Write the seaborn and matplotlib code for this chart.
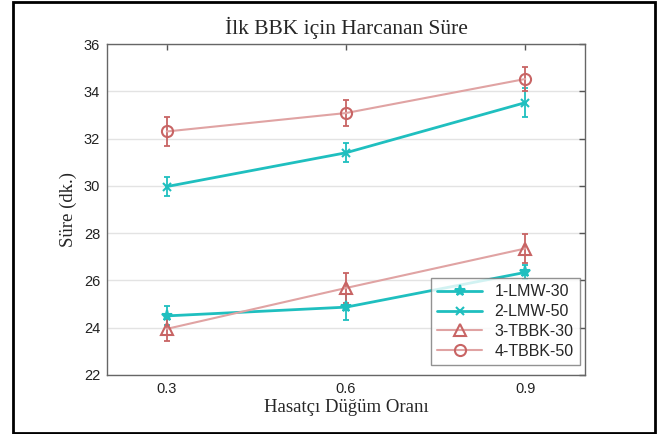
import matplotlib
matplotlib.use("Agg")
import matplotlib.pyplot as plt
import seaborn as sns
import pandas as pd
import numpy as np

x_vals = [0.3, 0.6, 0.9]
series_names = ["1-LMW-30", "2-LMW-50", "3-TBBK-30", "4-TBBK-50"]
lmw30 = [24.5, 24.87, 26.34]
lmw30_err = [0.4, 0.55, 0.3]
lmw50 = [29.97, 31.4, 33.52]
lmw50_err = [0.4, 0.4, 0.6]
tbbk30 = [23.95, 25.68, 27.35]
tbbk30_err = [0.5, 0.65, 0.63]
tbbk50 = [32.3, 33.08, 34.52]
tbbk50_err = [0.6, 0.55, 0.5]

values = [lmw30, lmw50, tbbk30, tbbk50]
errors = [lmw30_err, lmw50_err, tbbk30_err, tbbk50_err]

sns.set_style("white")
plt.rcParams['font.family'] = ['Liberation Sans', 'DejaVu Sans']

teal = "#1fbfbf"
rose_line = "#e0a3a3"
rose_mk = "#c86464"
line_colors = [teal, teal, rose_line, rose_line]
mk_colors = [teal, teal, rose_mk, rose_mk]
markers = ["*", "x", "^", "o"]
lws = [2.0, 2.0, 1.5, 1.5]
mfc = [teal, teal, "none", "none"]

rows = []
for name, v in zip(series_names, values):
    for xv, yv in zip(x_vals, v):
        rows.append({"x": xv, "y": yv, "series": name})
df = pd.DataFrame(rows)

fig = plt.figure(figsize=(6.6, 4.34), dpi=100)
ax = fig.add_axes([107/660, 1-375/434, (585-107)/660, (375-44)/434])

for i, name in enumerate(series_names):
    sub = df[df.series == name]
    ax.errorbar(sub.x, sub.y, yerr=errors[i], fmt="none", ecolor=mk_colors[i],
                elinewidth=1.3, capsize=2.5, capthick=1.3, zorder=2)
    sns.lineplot(data=sub, x="x", y="y", ax=ax, color=line_colors[i], lw=lws[i],
                 marker=markers[i], markersize=8 if markers[i] != "x" else 6,
                 markerfacecolor=mfc[i], markeredgecolor=mk_colors[i],
                 markeredgewidth=1.5, label=name, zorder=3)

ax.set_xlim(0.2, 1.0)
ax.set_ylim(22, 36)
ax.set_xticks(x_vals)
ax.set_xticklabels(["0.3", "0.6", "0.9"])
ax.set_yticks(np.arange(22, 37, 2))
ax.yaxis.grid(True, color="#e3e3e3", lw=1)
ax.xaxis.grid(False)
ax.tick_params(direction="in", length=4, width=1, color="#555555", labelsize=10.5,
               top=True, right=True, labelcolor="#222222", pad=5)
for s in ax.spines.values():
    s.set_color("#666666")
    s.set_linewidth(1)
    s.set_visible(True)

serif = ['Liberation Serif', 'DejaVu Serif']
ax.set_title("İlk BBK için Harcanan Süre", family=serif, fontsize=15.5, pad=7)
ax.set_xlabel("Hasatçı Düğüm Oranı", family=serif, fontsize=13.5, labelpad=2)
ax.set_ylabel("Süre (dk.)", family=serif, fontsize=13.5, labelpad=5)

leg = ax.legend(loc="lower right", bbox_to_anchor=(0.99, 0.03), borderaxespad=0,
                fontsize=11.5, frameon=True, fancybox=False, edgecolor="#777777",
                borderpad=0.4, labelspacing=0.3, handlelength=2.8)
leg.get_frame().set_linewidth(1)

# outer border
fig.patches.append(matplotlib.patches.Rectangle((13/660, 1/434), (655-13)/660, (432-1)/434,
                   transform=fig.transFigure, fill=False, edgecolor="black", lw=2))

fig.savefig("out.png", dpi=100)
